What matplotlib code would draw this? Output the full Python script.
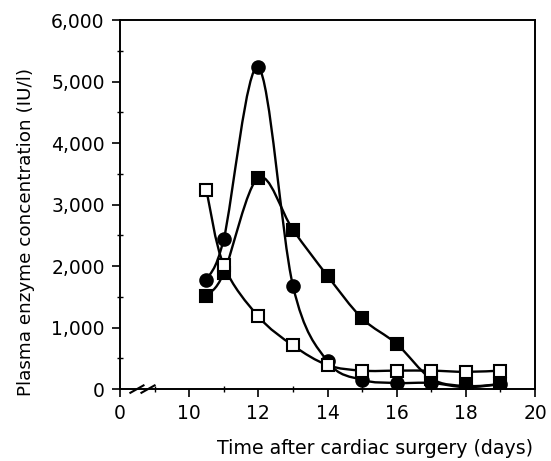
import numpy as np
import matplotlib
matplotlib.use("Agg")
import matplotlib.pyplot as plt
from matplotlib.path import Path
from matplotlib.patches import PathPatch
from matplotlib.ticker import FuncFormatter, MultipleLocator

plt.rcParams['font.family'] = ['DejaVu Sans']

# --- data (days after surgery, IU/l)
dias = [10.5, 11, 12, 13, 14, 15, 16, 17, 18, 19]
circulos = [1780, 2440, 5230, 1680, 450, 150, 100, 100, 30, 80]
quadrados_cheios = [1520, 1885, 3435, 2590, 1840, 1150, 735, 170, 50, 80]
quadrados_vazios = [3230, 2010, 1180, 710, 390, 300, 300, 300, 280, 300]

# the axis is broken: the "0" label sits where x=8 would be
x_ticks = [8, 10, 12, 14, 16, 18, 20]
x_labels = ['0', '10', '12', '14', '16', '18', '20']


def curva_suave(x, y):
    # --- Catmull-Rom turned into bezier segments
    p = np.column_stack([x, y]).astype(float)
    p_ext = np.vstack([p[0], p, p[-1]])
    verts = [tuple(p[0])]
    codes = [Path.MOVETO]
    for i in range(1, len(p_ext) - 2):
        p0, p1, p2, p3 = p_ext[i - 1], p_ext[i], p_ext[i + 1], p_ext[i + 2]
        c1 = p1 + (p2 - p0) / 6.0
        c2 = p2 - (p3 - p1) / 6.0
        verts += [tuple(c1), tuple(c2), tuple(p2)]
        codes += [Path.CURVE4] * 3
    return Path(verts, codes)


fig = plt.figure(figsize=(5.51, 4.61), dpi=100)
ax = fig.add_axes([0.2178, 0.156, 0.7532, 0.8006])

for serie, marcador, face in [(circulos, 'o', 'black'),
                              (quadrados_cheios, 's', 'black'),
                              (quadrados_vazios, 's', 'white')]:
    ax.add_patch(PathPatch(curva_suave(dias, serie), facecolor='none',
                           edgecolor='black', lw=1.7, zorder=2))
    ax.plot(dias, serie, linestyle='none', marker=marcador,
            markersize=9 if marcador == 'o' else 8,
            markerfacecolor=face, markeredgecolor='black',
            markeredgewidth=1.5, zorder=3)

ax.set_xlim(8, 20)
ax.set_ylim(0, 6000)
ax.set_xticks(x_ticks)
ax.set_xticklabels(x_labels)
ax.xaxis.set_minor_locator(MultipleLocator(1))
ax.yaxis.set_major_locator(MultipleLocator(1000))
ax.yaxis.set_minor_locator(MultipleLocator(500))
ax.yaxis.set_major_formatter(FuncFormatter(lambda v, pos: f'{v:,.0f}'))

ax.tick_params(which='major', direction='out', length=6, width=1.2,
               labelsize=13.5, pad=5)
ax.tick_params(which='minor', direction='inout', length=5, width=1.0)
for lado in ['left', 'bottom', 'top', 'right']:
    ax.spines[lado].set_linewidth(1.4)

# --- break marks on the x axis
for x0 in [8.3, 8.62]:
    ax.plot([x0, x0 + 0.38], [-60, 60], color='black', lw=1.5,
            clip_on=False, zorder=4)

ax.set_xlabel('Time after cardiac surgery (days)', fontsize=13.7)
ax.xaxis.set_label_coords(0.614, -0.135)
ax.set_ylabel('Plasma enzyme concentration (IU/l)', fontsize=13.2)
ax.yaxis.set_label_coords(-0.205, 0.425)

fig.savefig('out.png', dpi=100)
